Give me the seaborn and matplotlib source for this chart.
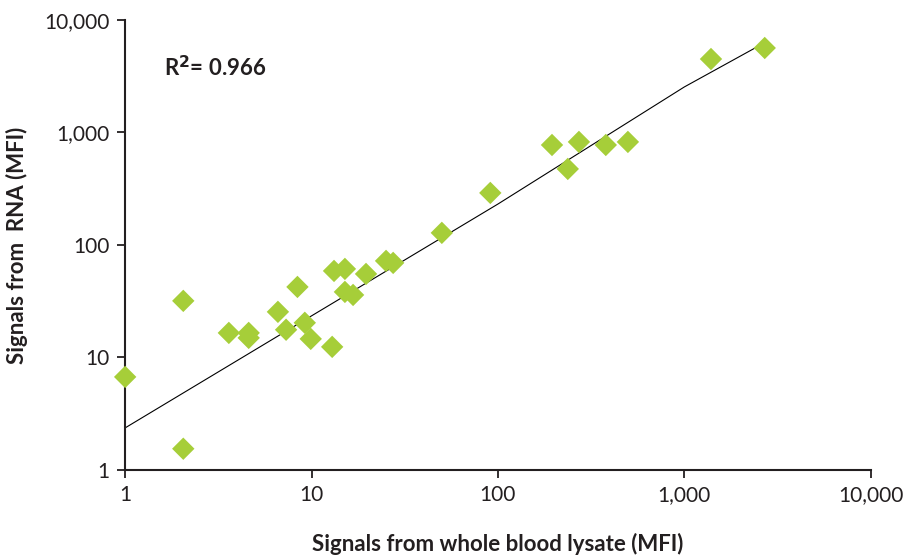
import matplotlib
matplotlib.use("Agg")
import matplotlib.pyplot as plt
import seaborn as sns
import pandas as pd
from matplotlib.ticker import FixedLocator, NullLocator

# values
blood_mfi = [1.0, 2.05, 2.05, 3.6, 4.6, 4.6, 6.6, 7.3, 8.4, 9.2, 9.9, 12.9, 13.2,
             15.1, 15.1, 16.7, 19.6, 25.1, 27.4, 50, 91, 195, 237, 272, 379, 498,
             1390, 2700]
rna_mfi = [6.7, 31.8, 1.54, 16.5, 16.5, 14.9, 25.4, 17.6, 42.3, 20.3, 14.6, 12.4,
           58.7, 61.2, 38.2, 35.9, 55.2, 72.1, 69.2, 128, 290, 774, 474, 824, 774,
           824, 4500, 5640]
trend_x = [1, 10, 100, 1000, 2700]
trend_y = [2.36, 23.4, 231, 2540, 6290]
tick_vals = [1, 10, 100, 1000, 10000]
tick_labels = ["1", "10", "100", "1,000", "10,000"]

df = pd.DataFrame({"blood": blood_mfi, "rna": rna_mfi})

sns.set_style("ticks")
plt.rcParams["font.family"] = ["Lato", "DejaVu Sans"]

fig = plt.figure(figsize=(9.07, 5.56), dpi=100)
ax = fig.add_axes([0.138, 0.155, 0.822, 0.809])

ax.plot(trend_x, trend_y, color="black", lw=0.8)
sns.scatterplot(data=df, x="blood", y="rna", marker="D", s=130, color="#a6ce39",
                edgecolor="none", ax=ax, zorder=3, clip_on=False)

ax.set_xscale("log")
ax.set_yscale("log")
ax.set_xlim(1, 10000)
ax.set_ylim(1, 10000)
ax.xaxis.set_major_locator(FixedLocator(tick_vals))
ax.yaxis.set_major_locator(FixedLocator(tick_vals))
ax.xaxis.set_minor_locator(NullLocator())
ax.yaxis.set_minor_locator(NullLocator())
ax.set_xticklabels(tick_labels)
ax.set_yticklabels(tick_labels)
ax.tick_params(axis="both", direction="out", length=6, width=1.3, labelsize=15,
               colors="#231f20", pad=5)

for s in ["top", "right"]:
    ax.spines[s].set_visible(False)
for s in ["left", "bottom"]:
    ax.spines[s].set_linewidth(1.5)
    ax.spines[s].set_color("#231f20")

ax.set_xlabel("Signals from whole blood lysate (MFI)", fontsize=16, fontweight="bold",
              color="#231f20", labelpad=20)
ax.set_ylabel("Signals from  RNA (MFI)", fontsize=16, fontweight="bold",
              color="#231f20", labelpad=12)

ax.text(0.052, 0.895, r"R$^{\mathbf{2}}$= 0.966", transform=ax.transAxes, fontsize=16,
        fontweight="bold", color="#231f20", va="center")

fig.savefig("out.png", dpi=100)
